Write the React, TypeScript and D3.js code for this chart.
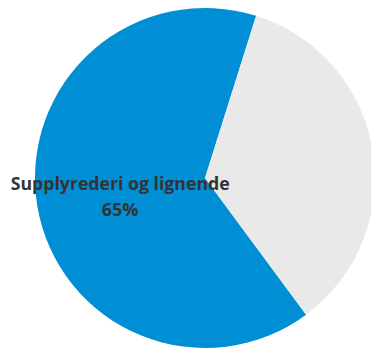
import React, { useEffect, useRef } from "react";
import * as d3 from "d3";

type Slice = {
  label: string;
  value: number;
};

const labels = ["Supplyrederi og lignende", "Andre"];
const values = [65, 35];
const colors = ["#008FD5", "#E9E9E9"];

const PieChart = () => {
  const ref = useRef<SVGSVGElement | null>(null);
  const width = 371;
  const height = 349;
  const cx = 205;
  const cy = 178;
  const radius = 170;

  useEffect(() => {
    const data: Slice[] = labels.map((l, i) => ({ label: l, value: values[i] }));
    const svg = d3.select(ref.current);
    svg.selectAll("*").remove();

    const graph = svg.append("g").attr("transform", `translate(${cx},${cy})`);

    // start where the blue slice begins (lower right)
    const startAngle = (143.5 * Math.PI) / 180;
    const pie = d3
      .pie<Slice>()
      .sort(null)
      .value((d) => d.value)
      .startAngle(startAngle)
      .endAngle(startAngle + 2 * Math.PI);

    const arc = d3.arc<d3.PieArcDatum<Slice>>().innerRadius(0).outerRadius(radius);

    const arcs = pie(data);

    graph
      .selectAll("path")
      .data(arcs)
      .enter()
      .append("path")
      .attr("d", arc)
      .attr("fill", (d, i) => colors[i]);

    // label only on the first slice
    const first = arcs[0];
    const [lx, ly] = arc.centroid(first);
    const label = graph
      .append("text")
      .attr("text-anchor", "middle")
      .attr("font-family", "'Open Sans', sans-serif")
      .attr("font-weight", "bold")
      .attr("font-size", 18)
      .attr("fill", "#333333");
    label
      .append("tspan")
      .attr("x", lx - 1)
      .attr("y", ly - 2)
      .attr("textLength", 219)
      .attr("lengthAdjust", "spacingAndGlyphs")
      .text(first.data.label);
    label
      .append("tspan")
      .attr("x", lx - 1)
      .attr("y", ly + 24)
      .text(`${first.data.value}%`);
  }, []);

  return <svg ref={ref} width={width} height={height} style={{ display: "block" }}></svg>;
};

export default function App() {
  return (
    <div style={{ position: "absolute", left: 0, top: 0 }}>
      <PieChart />
    </div>
  );
}
